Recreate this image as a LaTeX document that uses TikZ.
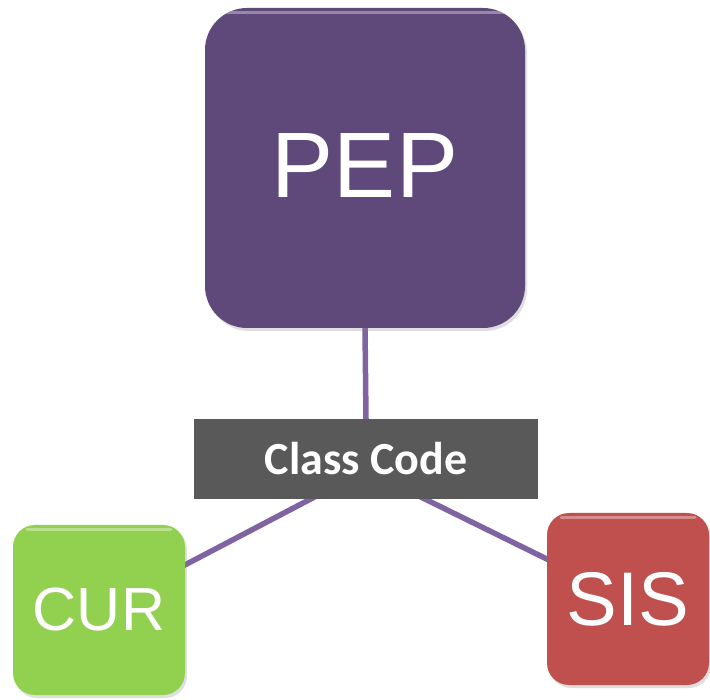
\documentclass[tikz,border=0pt]{standalone}
\usepackage{fontspec}
\setmainfont{Liberation Sans}
\newfontfamily\labelfont{Carlito}
\usepackage{xcolor}
\usepackage{tikz}
\usetikzlibrary{calc, backgrounds, shadows, positioning}
\definecolor{pepfill}{HTML}{5F497A}
\definecolor{linkcol}{HTML}{8064A2}
\definecolor{codefill}{HTML}{595959}
\definecolor{curfill}{HTML}{92D050}
\definecolor{sisfill}{HTML}{C0504D}
\tikzset{
    glossnode/.style = {draw=none, rectangle, inner sep=0pt, text=white,
      drop shadow={shadow xshift=2pt, shadow yshift=-3pt, opacity=0.25},
      path picture={
        \draw[white, opacity=0.35, line width=3pt, line cap=round]
          ($(path picture bounding box.north west)+(14pt,-5pt)$) --
          ($(path picture bounding box.north east)+(-14pt,-5pt)$);}},
    bignode/.style = {glossnode, rounded corners=42pt, minimum width=320pt, minimum height=320pt},
    smallnode/.style = {glossnode, rounded corners=22pt},
    codenode/.style = {draw=none, rectangle, inner sep=0pt, fill=codefill, text=white,
      minimum width=344pt, minimum height=80pt, font=\labelfont\bfseries\fontsize{46}{50}\selectfont},
    link/.style = {linkcol, line width=5.5pt}
}
\begin{document}
\begin{tikzpicture}[x=1pt, y=-1pt]
\useasboundingbox (0,0) rectangle (710,700);

\node[bignode, name=pep, fill=pepfill, font=\fontsize{93}{100}\selectfont] at (365,168) {\raisebox{4pt}{PEP}};
\node[codenode, name=code] at (366,459) {Class Code};
\node[smallnode, name=cur, fill=curfill, minimum width=172pt, minimum height=170pt,
  font=\fontsize{61}{66}\selectfont] at (99,610) {CUR};
\node[smallnode, name=sis, fill=sisfill, minimum width=162pt, minimum height=172pt,
  font=\fontsize{76}{80}\selectfont] at (628,599) {SIS};

\coordinate (hub) at (366,470);

% links sit behind the boxes
\begin{scope}[on background layer]
\draw[link] (pep.south) -- (code.north);
\draw[link] (hub) -- (cur.center);
\draw[link] (hub) -- (sis.center);
\end{scope}
\end{tikzpicture}
\end{document}
